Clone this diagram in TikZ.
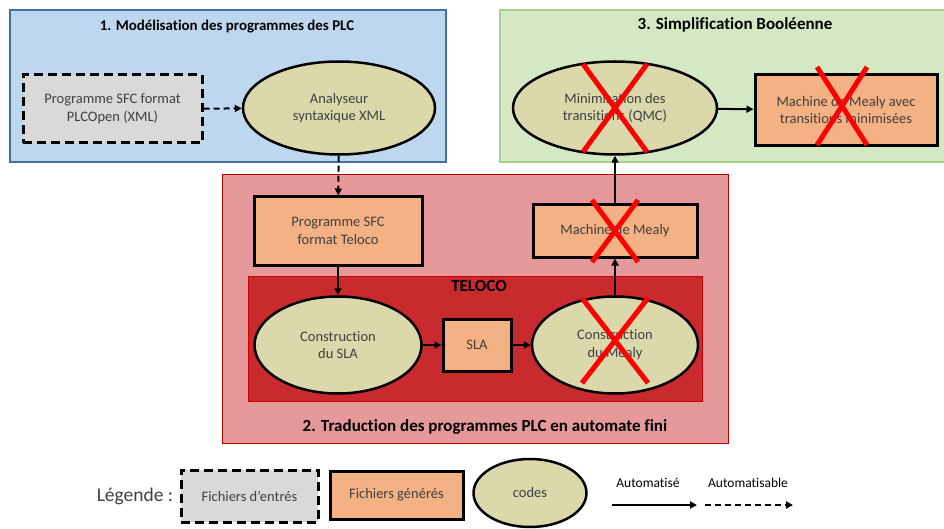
\documentclass[tikz,border=0pt]{standalone}
\usepackage{fontspec}
\setmainfont{Carlito}[Ligatures=NoCommon]
\usetikzlibrary{arrows.meta, positioning, shapes.geometric}

\definecolor{zoneblue}{RGB}{189,215,238}
\definecolor{zoneblueline}{RGB}{65,113,156}
\definecolor{zonegreen}{RGB}{213,232,196}
\definecolor{zonegreenline}{RGB}{168,208,141}
\definecolor{zonepink}{RGB}{229,153,155}
\definecolor{zonepinkline}{RGB}{192,0,0}
\definecolor{zonered}{RGB}{200,42,46}
\definecolor{genorange}{RGB}{244,177,131}
\definecolor{codekhaki}{RGB}{219,216,172}
\definecolor{ingray}{RGB}{217,217,217}
\definecolor{txtgray}{RGB}{64,64,64}

\tikzset{
  zonetitle/.style={font=\fontsize{17}{20}\selectfont\bfseries, inner sep=0pt},
  basetxt/.style={font=\fontsize{14.5}{17.7}\selectfont, text=txtgray, align=center},
  inbox/.style={basetxt, rectangle, draw=black, dash pattern=on 9pt off 5pt, line width=3pt, fill=ingray},
  genbox/.style={basetxt, rectangle, draw=black, line width=3pt, fill=genorange},
  codeell/.style={basetxt, ellipse, draw=black, line width=2.5pt, fill=codekhaki, inner sep=0pt},
  flow/.style={-{Triangle[length=7pt,width=7pt]}, line width=2pt},
  flowdash/.style={flow, dash pattern=on 6pt off 4pt},
  redx/.style={red, line width=5pt}
}

\begin{document}
\begin{tikzpicture}[x=1pt, y=-1pt]
  \useasboundingbox (0,0) rectangle (944,529);

  % zones
  \draw[fill=zoneblue, draw=zoneblueline, line width=1.5pt] (10,10) rectangle (446,162);
  \draw[fill=zonegreen, draw=zonegreenline, line width=1.5pt] (500,10) rectangle (948,162);
  \draw[fill=zonepink, draw=zonepinkline, line width=1pt] (222,175) rectangle (728,443);
  \draw[fill=zonered, draw=red!80!black, line width=1pt] (248,276) rectangle (702,401);

  \node[zonetitle, font=\fontsize{14.9}{18}\selectfont\bfseries] (title1) at (227,27) {1. Modélisation des programmes des PLC};
  \node[zonetitle] (title3) at (735,25) {3. Simplification Booléenne};
  \node[zonetitle] (title2) at (485,427) {2. Traduction des programmes PLC en automate fini};
  \node[zonetitle] (teloco) at (479,286) {TELOCO};

  % files and codes
  \node[inbox, minimum width=179, minimum height=68] (plcopen) at (112.5,109) {Programme SFC format\\PLCOpen (XML)};
  \node[codeell, minimum width=192, minimum height=93] (parser) at (339,108) {Analyseur\\syntaxique XML};
  \node[genbox, minimum width=168, minimum height=68] (sfcteloco) at (338,231) {Programme SFC\\format Teloco};
  \node[codeell, minimum width=167, minimum height=97] (buildsla) at (338,345) {Construction\\du SLA};
  \node[genbox, minimum width=68, minimum height=52] (sla) at (477,345) {SLA};
  \node[codeell, minimum width=166, minimum height=97] (buildmealy) at (615,345) {Construction\\du Mealy};
  \node[genbox, minimum width=164, minimum height=52] (mealy) at (615,231) {Machine de Mealy};
  \node[codeell, minimum width=204, minimum height=93] (qmc) at (615,108) {Minimisation des\\transitions (QMC)};
  \node[genbox, minimum width=182, minimum height=71] (mealymin) at (846,110) {Machine de Mealy avec\\transitions minimisées};

  % connectors
  \draw[flowdash] (plcopen) -- (parser);
  \draw[flowdash] (parser) -- (sfcteloco);
  \draw[flow] (sfcteloco) -- (buildsla);
  \draw[flow] (buildsla) -- (sla);
  \draw[flow] (sla) -- (buildmealy);
  \draw[flow] (buildmealy) -- (mealy);
  \draw[flow] (mealy) -- (qmc);
  \draw[flow] (qmc) -- (mealymin);

  % crossed out
  \draw[redx] ([shift={(-32,-44)}]qmc.center) -- ([shift={(32,44)}]qmc.center)
              ([shift={(32,-44)}]qmc.center) -- ([shift={(-32,44)}]qmc.center);
  \draw[redx] ([shift={(-29,-43)}]mealymin.center) -- ([shift={(21,35)}]mealymin.center)
              ([shift={(21,-43)}]mealymin.center) -- ([shift={(-29,35)}]mealymin.center);
  \draw[redx] ([shift={(-23,-31)}]mealy.center) -- ([shift={(23,31)}]mealy.center)
              ([shift={(23,-31)}]mealy.center) -- ([shift={(-23,31)}]mealy.center);
  \draw[redx] ([shift={(-33,-47)}]buildmealy.center) -- ([shift={(33,38)}]buildmealy.center)
              ([shift={(33,-47)}]buildmealy.center) -- ([shift={(-33,38)}]buildmealy.center);

  % legend
  \node[basetxt, font=\fontsize{19.5}{22}\selectfont] (legtitle) at (135,496) {Légende :};
  \node[inbox, minimum width=137, minimum height=52] (leginput) at (249.5,496) {Fichiers d’entrés};
  \node[genbox, minimum width=133, minimum height=48] (leggen) at (396.5,495) {Fichiers générés};
  \node[codeell, minimum width=113, minimum height=68] (legcode) at (530,493) {codes};
  \node[basetxt, font=\fontsize{13.5}{16}\selectfont, text=black] (legauto) at (648,483) {Automatisé};
  \node[basetxt, font=\fontsize{13.5}{16}\selectfont, text=black] (legautable) at (748,483) {Automatisable};
  \coordinate (autoA) at (612,505);
  \coordinate (autoB) at (697,505);
  \coordinate (autableA) at (705,505);
  \coordinate (autableB) at (793,505);
  \draw[flow] (autoA) -- (autoB);
  \draw[flowdash] (autableA) -- (autableB);
\end{tikzpicture}
\end{document}
